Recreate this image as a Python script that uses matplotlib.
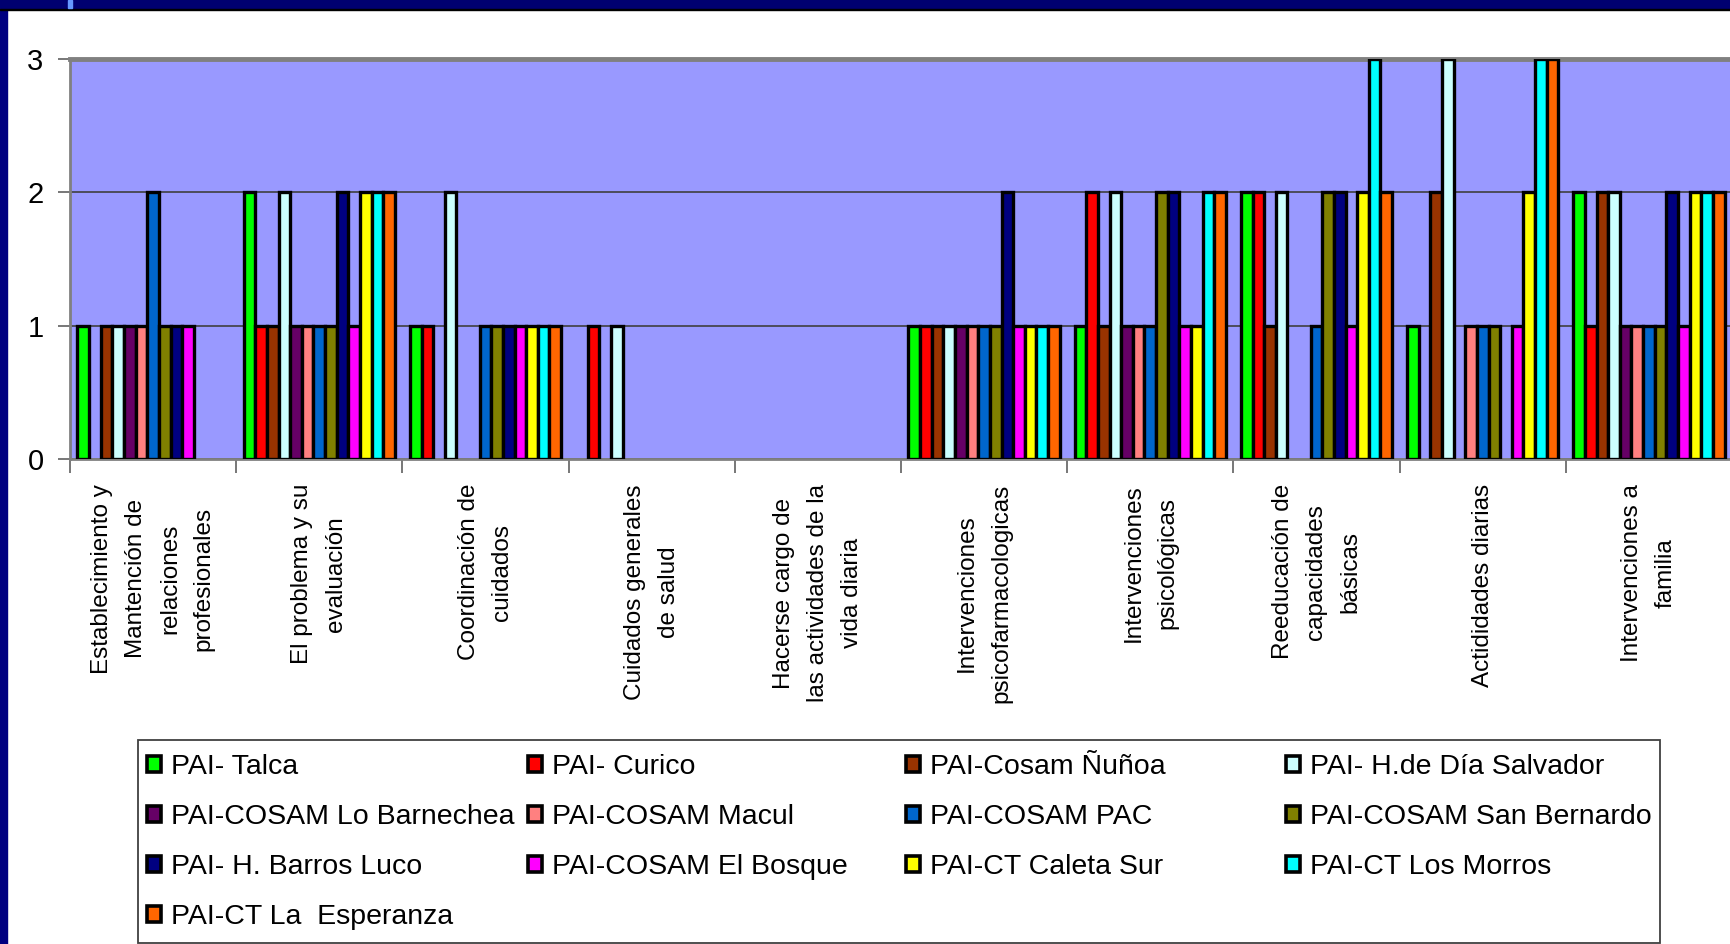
import matplotlib.pyplot as plt
import matplotlib.patches as mpatches
import numpy as np

plt.rcParams['font.family'] = ['Liberation Sans', 'DejaVu Sans']

# categorias del eje x
categorias = ['Establecimiento y\nMantención de\nrelaciones\nprofesionales',
              'El problema y su\nevaluación',
              'Coordinación de\ncuidados',
              'Cuidados generales\nde salud',
              'Hacerse cargo de\nlas actividades de la\nvida diaria',
              'Intervenciones\npsicofarmacologicas',
              'Intervenciones\npsicológicas',
              'Reeducación de\ncapacidades\nbásicas',
              'Actididades diarias',
              'Intervenciones a\nfamilia']

# series (un valor por categoria)
talca          = [1, 2, 1, 0, 0, 1, 1, 2, 1, 2]
curico         = [0, 1, 1, 1, 0, 1, 2, 2, 0, 1]
nunoa          = [1, 1, 0, 0, 0, 1, 1, 1, 2, 2]
salvador       = [1, 2, 2, 1, 0, 1, 2, 2, 3, 2]
lo_barnechea   = [1, 1, 0, 0, 0, 1, 1, 0, 0, 1]
macul          = [1, 1, 0, 0, 0, 1, 1, 0, 1, 1]
pac            = [2, 1, 1, 0, 0, 1, 1, 1, 1, 1]
san_bernardo   = [1, 1, 1, 0, 0, 1, 2, 2, 1, 1]
barros_luco    = [1, 2, 1, 0, 0, 2, 2, 2, 0, 2]
el_bosque      = [1, 1, 1, 0, 0, 1, 1, 1, 1, 1]
caleta_sur     = [0, 2, 1, 0, 0, 1, 1, 2, 2, 2]
los_morros     = [0, 2, 1, 0, 0, 1, 2, 3, 3, 2]
la_esperanza   = [0, 2, 1, 0, 0, 1, 2, 2, 3, 2]

nombres = ['PAI- Talca', 'PAI- Curico', 'PAI-Cosam Ñuñoa', 'PAI- H.de Día Salvador',
           'PAI-COSAM Lo Barnechea', 'PAI-COSAM Macul', 'PAI-COSAM PAC', 'PAI-COSAM San Bernardo',
           'PAI- H. Barros Luco', 'PAI-COSAM El Bosque', 'PAI-CT Caleta Sur', 'PAI-CT Los Morros',
           'PAI-CT La  Esperanza']
series = [talca, curico, nunoa, salvador, lo_barnechea, macul, pac, san_bernardo,
          barros_luco, el_bosque, caleta_sur, los_morros, la_esperanza]
cores = ['#00FF00', '#FF0000', '#993300', '#CCFFFF', '#660066', '#FF8080', '#0066CC',
         '#808000', '#000080', '#FF00FF', '#FFFF00', '#00FFFF', '#FF6600']

W, H = 1730, 944
fig = plt.figure(figsize=(W / 100, H / 100), dpi=100)
fig.patch.set_facecolor('white')

# marco azul de la diapositiva
fig.add_artist(mpatches.Rectangle((0, 0), 7 / W, 1, transform=fig.transFigure, color='#000080', zorder=5))
fig.add_artist(mpatches.Rectangle((0, 1 - 9 / H), 1, 9 / H, transform=fig.transFigure, color='#000070', zorder=5))
fig.add_artist(mpatches.Rectangle((0, 1 - 10 / H), 1, 1.5 / H, transform=fig.transFigure, color='black', zorder=5))
fig.add_artist(mpatches.Rectangle((68 / W, 1 - 8 / H), 4 / W, 8 / H, transform=fig.transFigure, color='#6699FF', zorder=6))

ax = fig.add_axes([70 / W, 1 - 459 / H, 1662 / W, 400 / H])
ax.set_facecolor('#9999FF')

x = np.arange(len(categorias))
ancho = 0.07
barras = []
for i, (vals, cor, nome) in enumerate(zip(series, cores, nombres)):
    bordes = ['black' if v > 0 else 'none' for v in vals]
    b = ax.bar(x + (i - 6) * ancho, vals, ancho, color=cor, edgecolor=bordes,
               linewidth=2.4, label=nome, zorder=3)
    barras.append(b)

ax.set_xlim(-0.5, 9.5)
ax.set_ylim(0, 3)
ax.set_yticks([0, 1, 2, 3])
ax.tick_params(axis='y', labelsize=21, length=9, width=1.2, color='#606060', pad=10)
ax.yaxis.grid(True, color='#404040', linewidth=1.2, zorder=1)
ax.set_axisbelow(True)

ax.set_xticks(np.arange(-0.5, 10, 1))
ax.set_xticklabels([])
ax.tick_params(axis='x', which='major', length=10, width=1.2, color='#606060')
ax.set_xticks(x, minor=True)
ax.set_xticklabels(categorias, minor=True, rotation=90, fontsize=17.5, ha='center', va='top',
                   linespacing=1.7, multialignment='center')
ax.tick_params(axis='x', which='minor', length=0, pad=18)

for lado in ['left', 'bottom']:
    ax.spines[lado].set_color('#808080')
    ax.spines[lado].set_linewidth(2)
ax.spines['top'].set_color('#808080')
ax.spines['top'].set_linewidth(3.5)
ax.spines['right'].set_visible(False)

# leyenda en cuatro columnas iguales
fig.add_artist(mpatches.Rectangle((138 / W, 1 / H), 1522 / W, 203 / H, transform=fig.transFigure,
                                  facecolor='white', edgecolor='#404040', linewidth=1.3, zorder=2))
columnas = [[0, 4, 8, 12], [1, 5, 9], [2, 6, 10], [3, 7, 11]]
x_col = [147, 528, 906, 1286]
for col, xc in zip(columnas, x_col):
    leg = fig.legend([barras[k] for k in col], [nombres[k] for k in col],
                     loc='upper left', bbox_to_anchor=(xc / W, 1 - 754 / H),
                     frameon=False, fontsize=20.5, handlelength=0.5, handleheight=0.5,
                     handletextpad=0.35, labelspacing=0.84, borderpad=0, borderaxespad=0)
    for h in leg.legend_handles:
        h.set_edgecolor('black')
        h.set_linewidth(2.6)
    leg.set_zorder(4)

plt.savefig('out.png', dpi=100)
